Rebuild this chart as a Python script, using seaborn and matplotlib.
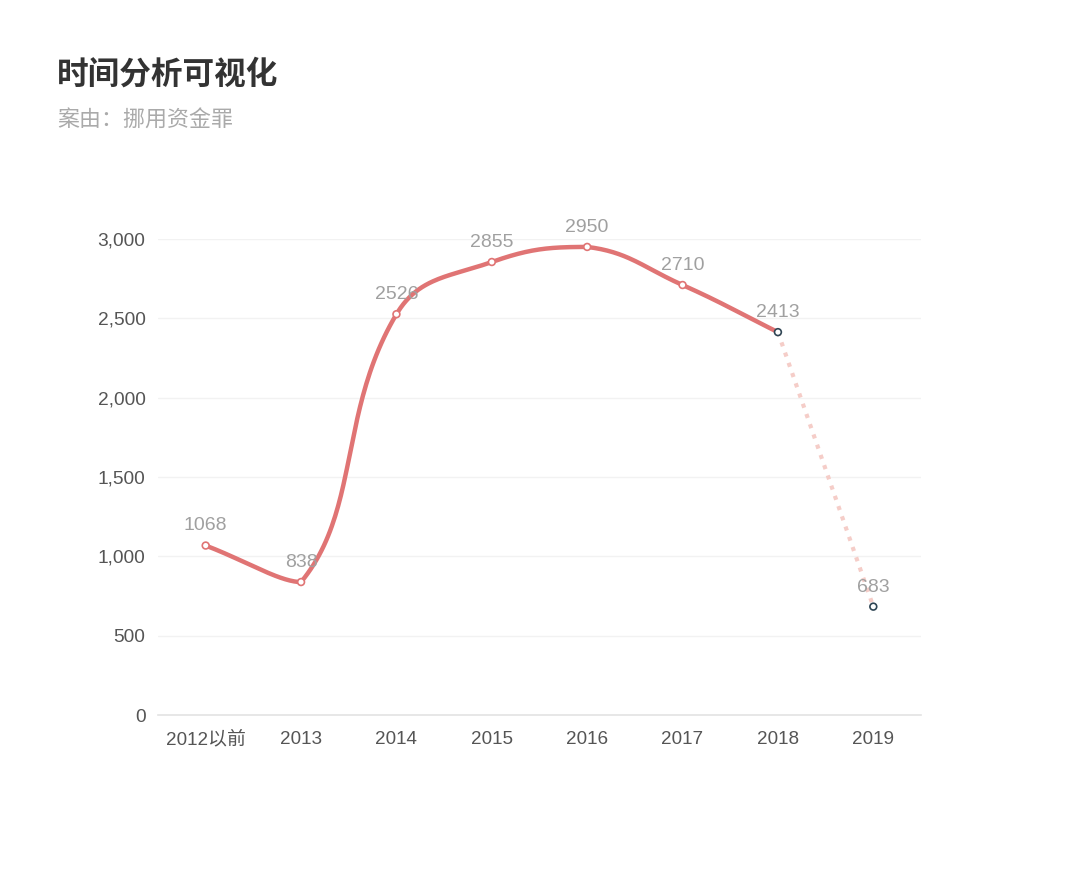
import numpy as np
import pandas as pd
import matplotlib
matplotlib.use("Agg")
import matplotlib.pyplot as plt
import seaborn as sns

categories = ["2012以前", "2013", "2014", "2015", "2016", "2017", "2018", "2019"]
values = [1068, 838, 2526, 2855, 2950, 2710, 2413, 683]
solid_count = 7  # points joined by the solid smooth line (up to 2018)
y_ticks = [0, 500, 1000, 1500, 2000, 2500, 3000]

title = "时间分析可视化"
subtitle = "案由：挪用资金罪"

sns.set_theme(style="white")
plt.rcParams['font.family'] = ['Noto Sans CJK SC', 'DejaVu Sans']
num_font = ['Liberation Sans', 'Noto Sans CJK SC']

fig = plt.figure(figsize=(10.8, 8.74), dpi=100)
ax = fig.add_axes([158 / 1080, 159 / 874, 763 / 1080, 476 / 874])

line_color = "#e07474"

# pixel scale for the smoothing (x step per category, px per value unit)
PX_X = 763 / 8
PX_Y = 476 / 3000

def smooth_bezier(xp, yp, smooth=0.5, n=50):
    # ECharts-4 style smoothing with bounding-box constraint, in pixel space
    P = np.column_stack([np.asarray(xp, float) * PX_X, np.asarray(yp, float) * PX_Y])
    lo, hi = P.min(axis=0), P.max(axis=0)
    m = len(P)
    cps = []
    for i in range(m):
        p = P[i]
        prev = P[i - 1] if i > 0 else p
        nxt = P[i + 1] if i < m - 1 else p
        v = (nxt - prev) * smooth
        d0 = np.linalg.norm(p - prev)
        d1 = np.linalg.norm(p - nxt)
        s = d0 + d1
        if s != 0:
            d0 /= s
            d1 /= s
        cp0 = np.clip(p - v * d0, lo, hi)
        cp1 = np.clip(p + v * d1, lo, hi)
        cps.append((cp0, cp1))
    out = []
    for i in range(m - 1):
        a, b = P[i], P[i + 1]
        c1, c2 = cps[i][1], cps[i + 1][0]
        t = np.linspace(0, 1, n, endpoint=(i == m - 2))[:, None]
        seg = (1 - t) ** 3 * a + 3 * (1 - t) ** 2 * t * c1 + 3 * (1 - t) * t ** 2 * c2 + t ** 3 * b
        out.append(seg)
    out = np.vstack(out)
    return out[:, 0] / PX_X, out[:, 1] / PX_Y

cx, cy = smooth_bezier(np.arange(solid_count), values[:solid_count], smooth=0.42)
curve = pd.DataFrame({"x": cx, "y": cy})
sns.lineplot(data=curve, x="x", y="y", ax=ax, color=line_color, linewidth=3.2,
             sort=False, estimator=None, zorder=3)

# dotted forecast segment
seg = pd.DataFrame({"x": [solid_count - 1, solid_count], "y": values[solid_count - 1:solid_count + 1]})
ax.plot(seg["x"], seg["y"], color="#f5cdc8", linewidth=3, linestyle=(0, (1, 1.6)), zorder=2)

# markers
pts = pd.DataFrame({"x": np.arange(len(values)), "y": values})
edge_cols = [line_color] * (solid_count - 1) + ["#2f4554", "#2f4554"]
ax.scatter(pts["x"], pts["y"], s=24, facecolor="white", edgecolor=edge_cols, linewidth=1.2, zorder=5)

for i, v in enumerate(values):
    ax.annotate(str(v), (i, v), xytext=(0, 8), textcoords="offset points",
                ha="center", va="bottom", fontsize=14, color="#a0a0a0",
                family=num_font, annotation_clip=False, zorder=6)

ax.set_xlim(-0.5, len(values) - 0.5)
ax.set_ylim(0, 3000)
ax.set_xticks(range(len(categories)))
ax.set_xticklabels(categories, family=num_font, fontsize=13.6, color="#555555")
ax.set_yticks(y_ticks)
ax.set_yticklabels([f"{t:,}" for t in y_ticks], family=num_font, fontsize=13.8, color="#555555")
ax.tick_params(axis="both", length=0)
ax.tick_params(axis="x", pad=11.5)
ax.tick_params(axis="y", pad=9)
ax.set_xlabel("")
ax.set_ylabel("")

for t in y_ticks[1:]:
    ax.axhline(t, color="#f2f2f2", linewidth=1, zorder=0)
for s in ["top", "right", "left"]:
    ax.spines[s].set_visible(False)
ax.spines["bottom"].set_color("#e3e3e3")
ax.spines["bottom"].set_linewidth(1.2)

fig.text(57 / 1080, 1 - 75 / 874, title, fontsize=22.8, fontweight="bold", color="#333333",
         ha="left", va="center")
fig.text(57 / 1080, 1 - 121 / 874, subtitle, fontsize=15.8, color="#aaaaaa",
         ha="left", va="center")

fig.savefig("out.png", dpi=100, facecolor="white")
